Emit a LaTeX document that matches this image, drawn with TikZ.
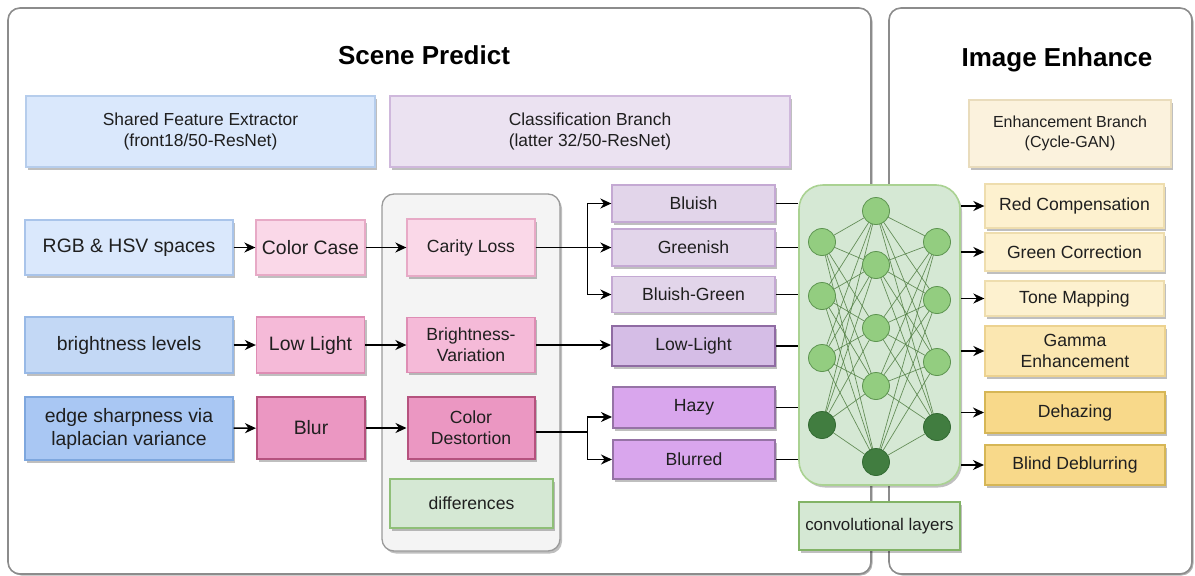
\documentclass[tikz,border=0pt]{standalone}
\usepackage{fontspec}
\setmainfont{Liberation Sans}
\usetikzlibrary{arrows.meta,shadows,calc}

% palette
\definecolor{panelline}{HTML}{8C8C8C}
\definecolor{txt}{HTML}{1F1F1F}
\definecolor{sfeFill}{HTML}{DAE8FC}\definecolor{sfeLine}{HTML}{B6CDEC}
\definecolor{clsFill}{HTML}{EBE2F1}\definecolor{clsLine}{HTML}{CFB8DC}
\definecolor{enhFill}{HTML}{FBF2DD}\definecolor{enhLine}{HTML}{E9DCBC}
\definecolor{blueA}{HTML}{DAE8FC}\definecolor{blueAl}{HTML}{A9C4EA}
\definecolor{blueB}{HTML}{C3D8F5}\definecolor{blueBl}{HTML}{98B9E6}
\definecolor{blueC}{HTML}{A9C7F3}\definecolor{blueCl}{HTML}{7EA7DE}
\definecolor{pinkA}{HTML}{FAD8E8}\definecolor{pinkAl}{HTML}{E7AAC6}
\definecolor{pinkB}{HTML}{F5BAD8}\definecolor{pinkBl}{HTML}{DE8DB4}
\definecolor{pinkC}{HTML}{EB97C2}\definecolor{pinkCl}{HTML}{B5527E}
\definecolor{greyFill}{HTML}{F4F4F4}\definecolor{greyLine}{HTML}{9A9A9A}
\definecolor{grnFill}{HTML}{D5E8D4}\definecolor{grnLine}{HTML}{8FBF78}
\definecolor{grnBox}{HTML}{AAD292}\definecolor{grnDark}{HTML}{82B366}
\definecolor{purA}{HTML}{E2D5EA}\definecolor{purAl}{HTML}{C4A9D3}
\definecolor{purB}{HTML}{D5BDE6}\definecolor{purBl}{HTML}{8F6BA3}
\definecolor{purC}{HTML}{D9A6ED}\definecolor{purCl}{HTML}{9673A6}
\definecolor{yelA}{HTML}{FDF1CF}\definecolor{yelAl}{HTML}{EEDDAE}
\definecolor{yelB}{HTML}{FBE7B1}\definecolor{yelBl}{HTML}{ECD290}
\definecolor{yelC}{HTML}{F8D98A}\definecolor{yelCl}{HTML}{D6B656}
\definecolor{neuLight}{HTML}{93CD80}\definecolor{neuLightL}{HTML}{5D9450}
\definecolor{neuDark}{HTML}{417D40}\definecolor{neuDarkL}{HTML}{336A33}
\definecolor{linkCol}{HTML}{527F44}

\pgfdeclarelayer{panel}
\pgfdeclarelayer{netbox}
\pgfdeclarelayer{links}
\pgfsetlayers{panel,netbox,links,main}

\begin{document}
\begin{tikzpicture}[x=1pt,y=-1pt,
  shade box/.style={drop shadow={shadow xshift=2pt,shadow yshift=-2.5pt,opacity=0.25,fill=black}},
  box/.style={shade box,draw,line width=1.3pt,inner sep=2pt,align=center,text=txt},
  thick box/.style={box,line width=2pt},
  big/.style={font=\fontsize{19.4}{23}\selectfont},
  mid/.style={font=\fontsize{17.6}{21}\selectfont},
  head/.style={font=\fontsize{17.4}{21}\selectfont},
  title/.style={font=\fontsize{26}{30}\selectfont\bfseries,text=black},
  arr/.style={draw=black,line width=1.5pt,-{Stealth[length=11pt,width=10pt,inset=3.5pt]}},
  feed/.style={draw=black,line width=1.5pt},
  neuron/.style={circle,draw=neuLightL,fill=neuLight,line width=0.8pt,minimum size=27pt,inner sep=0pt},
  deep/.style={circle,draw=neuDarkL,fill=neuDark,line width=0.8pt,minimum size=27pt,inner sep=0pt},
  link/.style={draw=linkCol,line width=0.7pt,opacity=0.85},
  panelbox/.style={draw=panelline,line width=1.6pt,rounded corners=12pt,fill=white,
     drop shadow={shadow xshift=1.5pt,shadow yshift=-1.5pt,opacity=0.3,fill=black}}
]
\useasboundingbox (0,0) rectangle (1195,576);

% ---------- two outer panels ----------
\begin{pgfonlayer}{panel}
\draw[panelbox] (8,8) rectangle (871,574);
\draw[panelbox] (889,8) rectangle (1192,574);
\end{pgfonlayer}

\node[title] (tscene) at (424,55) {Scene Predict};
\node[title] (tenh) at (1057,60) {Image Enhance};

% ---------- header boxes ----------
\node[box,head,fill=sfeFill,draw=sfeLine,minimum width=349pt,minimum height=71pt] (sfe) at (200.5,131.5)
  {Shared Feature Extractor\\(front18/50-ResNet)};
\node[box,head,fill=clsFill,draw=clsLine,minimum width=400pt,minimum height=71pt] (cls) at (590,131.5)
  {Classification Branch\\(latter 32/50-ResNet)};
\node[box,font=\fontsize{16}{20}\selectfont,fill=enhFill,draw=enhLine,minimum width=202pt,minimum height=67pt] (enh) at (1070,133.5)
  {Enhancement Branch\\(Cycle-GAN)};

% ---------- feature inputs ----------
\node[box,big,fill=blueA,draw=blueAl,minimum width=208pt,minimum height=55pt] (rgb) at (129,247.5) {RGB \& HSV spaces};
\node[box,big,fill=blueB,draw=blueBl,minimum width=208pt,minimum height=56pt] (bri) at (129,345) {brightness levels};
\node[box,big,fill=blueC,draw=blueCl,minimum width=208pt,minimum height=63pt] (edge) at (129,428.5) {edge sharpness via\\laplacian variance};

\node[box,big,fill=pinkA,draw=pinkAl,minimum width=109pt,minimum height=55pt] (ccase) at (310.5,247.5) {Color Case};
\node[box,big,fill=pinkB,draw=pinkBl,minimum width=108pt,minimum height=56pt] (llight) at (310.5,345) {Low Light};
\node[thick box,big,fill=pinkC,draw=pinkCl,minimum width=108pt,minimum height=62pt] (blur) at (311,428) {Blur};

% ---------- differences group ----------
\node[draw=greyLine,fill=greyFill,line width=1.3pt,rounded corners=12pt,shade box,
      minimum width=178pt,minimum height=357pt] (group) at (471,372.5) {};
\node[box,mid,fill=pinkA,draw=pinkAl,minimum width=128pt,minimum height=57pt] (carity) at (471,247.5) {Carity Loss};
\node[box,mid,fill=pinkB,draw=pinkBl,minimum width=128pt,minimum height=55pt] (bvar) at (471,345) {Brightness-\\Variation};
\node[thick box,mid,fill=pinkC,draw=pinkCl,minimum width=127pt,minimum height=62pt] (cdest) at (471,428) {Color\\Destortion};
\node[box,mid,fill=grnFill,draw=grnLine,line width=2pt,minimum width=163pt,minimum height=49pt] (diff) at (471.5,503.5) {differences};

% ---------- scene classes ----------
\node[box,mid,fill=purA,draw=purAl,minimum width=163pt,minimum height=37pt] (bluish) at (693.5,203.5) {Bluish};
\node[box,mid,fill=purA,draw=purAl,minimum width=163pt,minimum height=37pt] (greenish) at (693.5,247.5) {Greenish};
\node[box,mid,fill=purA,draw=purAl,minimum width=163pt,minimum height=36pt] (bgreen) at (693.5,294.5) {Bluish-Green};
\node[thick box,mid,fill=purB,draw=purBl,minimum width=163pt,minimum height=40pt] (lowl) at (693.5,346) {Low-Light};
\node[thick box,mid,fill=purC,draw=purCl,minimum width=162pt,minimum height=41pt] (hazy) at (694,407.5) {Hazy};
\node[thick box,mid,fill=purC,draw=purCl,minimum width=162pt,minimum height=39pt] (blurred) at (694,459.5) {Blurred};

% ---------- convolutional network ----------
\begin{pgfonlayer}{netbox}
\node[draw=grnBox,fill=grnFill,line width=1.6pt,rounded corners=24pt,shade box,
      minimum width=161pt,minimum height=300pt] (net) at (879.5,335) {};
\node[box,font=\fontsize{16.9}{20}\selectfont,fill=grnFill,draw=grnDark,line width=2pt,
      minimum width=161pt,minimum height=48pt] (conv) at (879.5,526) {convolutional layers};
\end{pgfonlayer}

\node[neuron] (l1) at (822,242) {};
\node[neuron] (l2) at (822,296) {};
\node[neuron] (l3) at (822,358) {};
\node[deep]   (l4) at (822,425) {};
\node[neuron] (m1) at (876,211) {};
\node[neuron] (m2) at (876,265) {};
\node[neuron] (m3) at (876,328) {};
\node[neuron] (m4) at (876,386) {};
\node[deep]   (m5) at (876,462) {};
\node[neuron] (r1) at (937,242) {};
\node[neuron] (r2) at (937,300) {};
\node[neuron] (r3) at (937,362) {};
\node[deep]   (r4) at (937,427) {};

\begin{pgfonlayer}{links}
\foreach \a in {1,...,4}{
  \foreach \b in {1,...,5}{
    \draw[link] (l\a.center) -- (m\b.center);
    \draw[link] (m\b.center) -- (r\a.center);
  }
}
\end{pgfonlayer}

% ---------- enhancement operators ----------
\node[box,mid,fill=yelA,draw=yelAl,minimum width=179pt,minimum height=44pt] (redc) at (1074.5,206) {Red Compensation};
\node[box,mid,fill=yelA,draw=yelAl,minimum width=179pt,minimum height=38pt] (grnc) at (1074.5,252) {Green Correction};
\node[box,mid,fill=yelA,draw=yelAl,minimum width=179pt,minimum height=35pt] (tone) at (1074.5,298.5) {Tone Mapping};
\node[box,mid,fill=yelB,draw=yelBl,minimum width=180pt,minimum height=50pt] (gamma) at (1075,351) {Gamma\\Enhancement};
\node[thick box,mid,fill=yelC,draw=yelCl,minimum width=180pt,minimum height=41pt] (dehaze) at (1075,412.5) {Dehazing};
\node[thick box,mid,fill=yelC,draw=yelCl,minimum width=180pt,minimum height=40pt] (deblur) at (1075,465) {Blind Deblurring};

% ---------- connectors ----------
\draw[arr] (rgb) -- (ccase);
\draw[arr] (bri) -- (llight);
\draw[arr] (edge) -- (blur);
\draw[arr] (ccase) -- (carity);
\draw[arr] (llight) -- (bvar);
\draw[arr] (blur) -- (cdest);

\draw[arr] (carity.east) -- ++(52,0) |- (bluish.west);
\draw[arr] (carity.east) -- (greenish.west);
\draw[arr] (carity.east) -- ++(52,0) |- (bgreen.west);
\draw[arr] (bvar.east) -- (bvar.east -| lowl.west);
\draw[arr] ([yshift=-4pt]cdest.east) -- ++(52,0) |- ([yshift=-9.5pt]hazy.west);
\draw[arr] ([yshift=-4pt]cdest.east) -- ++(52,0) |- (blurred.west);

\foreach \n in {bluish,greenish,bgreen,lowl,hazy,blurred}
  \draw[feed] (\n.east) -- (\n.east -| net.west);

\foreach \n in {redc,grnc,tone,gamma,dehaze,deblur}
  \draw[arr] (\n.west -| net.east) -- (\n.west);
\end{tikzpicture}
\end{document}
